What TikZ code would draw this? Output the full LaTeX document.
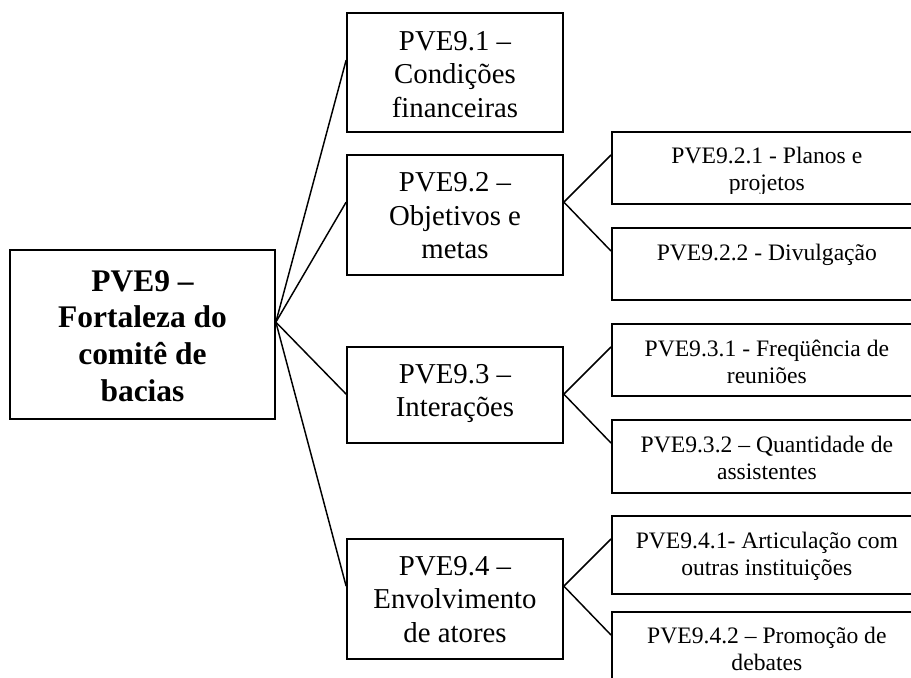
\documentclass[tikz,border=0pt]{standalone}
\usepackage{fontspec}
\setmainfont{Liberation Serif}
\usetikzlibrary{calc}

\tikzset{
  box/.style={draw, line width=1.3pt, inner sep=0pt},
  rootbox/.style={box, minimum width=198.75pt, minimum height=126.75pt},
  midbox/.style={box, minimum width=162pt},
  leafbox/.style={box, anchor=north west, minimum width=232.5pt},
  boxtext/.style={inner sep=0pt, align=flush center, anchor=base},
  roottext/.style={boxtext, text width=190pt,
    font=\fontsize{23.6}{27.4}\selectfont\bfseries},
  midtext/.style={boxtext, text width=155pt, font=\fontsize{21.6}{24.9}\selectfont},
  leaftext/.style={boxtext, text width=225pt, font=\fontsize{17.7}{20.25}\selectfont},
  link/.style={line width=1.1pt}
}

\begin{document}
\begin{tikzpicture}[x=0.75pt,y=-0.75pt]
  \path[use as bounding box] (0,0) rectangle (911,678);
  \fill[white] (0,0) rectangle (911,678);
  \clip (0,0) rectangle (911,678);
  % root
  \node[rootbox] (root) at (142.5,334.5) {};
  \node[roottext] (troot) at ($(root.north)+(0,42.3)$) {PVE9 –\\ Fortaleza do\\ comitê de\\ bacias};
  % first level
  \node[midbox, minimum height=89.25pt] (n91) at (455,72.5) {};
  \node[midbox, minimum height=90pt] (n92) at (455,215) {};
  \node[midbox, minimum height=72pt] (n93) at (455,395) {};
  \node[midbox, minimum height=90pt] (n94) at (455,599) {};
  \node[midtext] (t91) at ($(n91.north)+(0,38.5)$) {PVE9.1 –\\ Condições\\ financeiras};
  \node[midtext] (t92) at ($(n92.north)+(0,37.7)$) {PVE9.2 –\\ Objetivos e\\ metas};
  \node[midtext] (t93) at ($(n93.north)+(0,37.3)$) {PVE9.3 –\\ Interações};
  \node[midtext] (t94) at ($(n94.north)+(0,37.5)$) {PVE9.4 –\\ Envolvimento\\ de atores};
  % second level
  \node[leafbox, minimum height=54pt] (n921) at (611,131) {};
  \node[leafbox, minimum height=54pt] (n922) at (611,227) {};
  \node[leafbox, minimum height=54pt] (n931) at (611,323) {};
  \node[leafbox, minimum height=54.75pt] (n932) at (611,419) {};
  \node[leafbox, minimum height=58.5pt] (n941) at (611,515) {};
  \node[leafbox, minimum height=60pt] (n942) at (611,611) {};
  \begin{scope}
    \clip (n921.north west) rectangle ($(n921.north east)+(0,62)$);
    \node[leaftext] (t921) at ($(n921.north)+(0,32)$) {PVE9.2.1 - Planos e\\ projetos};
  \end{scope}
  \node[leaftext] (t922) at ($(n922.north)+(0,33)$) {PVE9.2.2 - Divulgação};
  \node[leaftext] (t931) at ($(n931.north)+(0,33)$) {PVE9.3.1 - Freqüência de\\ reuniões};
  \node[leaftext] (t932) at ($(n932.north)+(0,33)$) {PVE9.3.2 – Quantidade de\\ assistentes};
  \node[leaftext] (t941) at ($(n941.north)+(0,33)$) {PVE9.4.1- Articulação com\\ outras instituições};
  \node[leaftext] (t942) at ($(n942.north)+(0,32)$) {PVE9.4.2 – Promoção de\\ debates};
  % connectors
  \draw[link] ($(root.north east)+(0,73)$) -- ($(n91.north west)+(0,48)$);
  \draw[link] ($(root.north east)+(0,73)$) -- ($(n92.north west)+(0,48)$);
  \draw[link] ($(root.north east)+(0,73)$) -- ($(n93.north west)+(0,48)$);
  \draw[link] ($(root.north east)+(0,73)$) -- ($(n94.north west)+(0,48)$);
  \draw[link] ($(n92.north east)+(0,48)$) -- ($(n921.north west)+(0,24)$);
  \draw[link] ($(n92.north east)+(0,48)$) -- ($(n922.north west)+(0,24)$);
  \draw[link] ($(n93.north east)+(0,48)$) -- ($(n931.north west)+(0,24)$);
  \draw[link] ($(n93.north east)+(0,48)$) -- ($(n932.north west)+(0,24)$);
  \draw[link] ($(n94.north east)+(0,48)$) -- ($(n941.north west)+(0,24)$);
  \draw[link] ($(n94.north east)+(0,48)$) -- ($(n942.north west)+(0,24)$);
\end{tikzpicture}
\end{document}
